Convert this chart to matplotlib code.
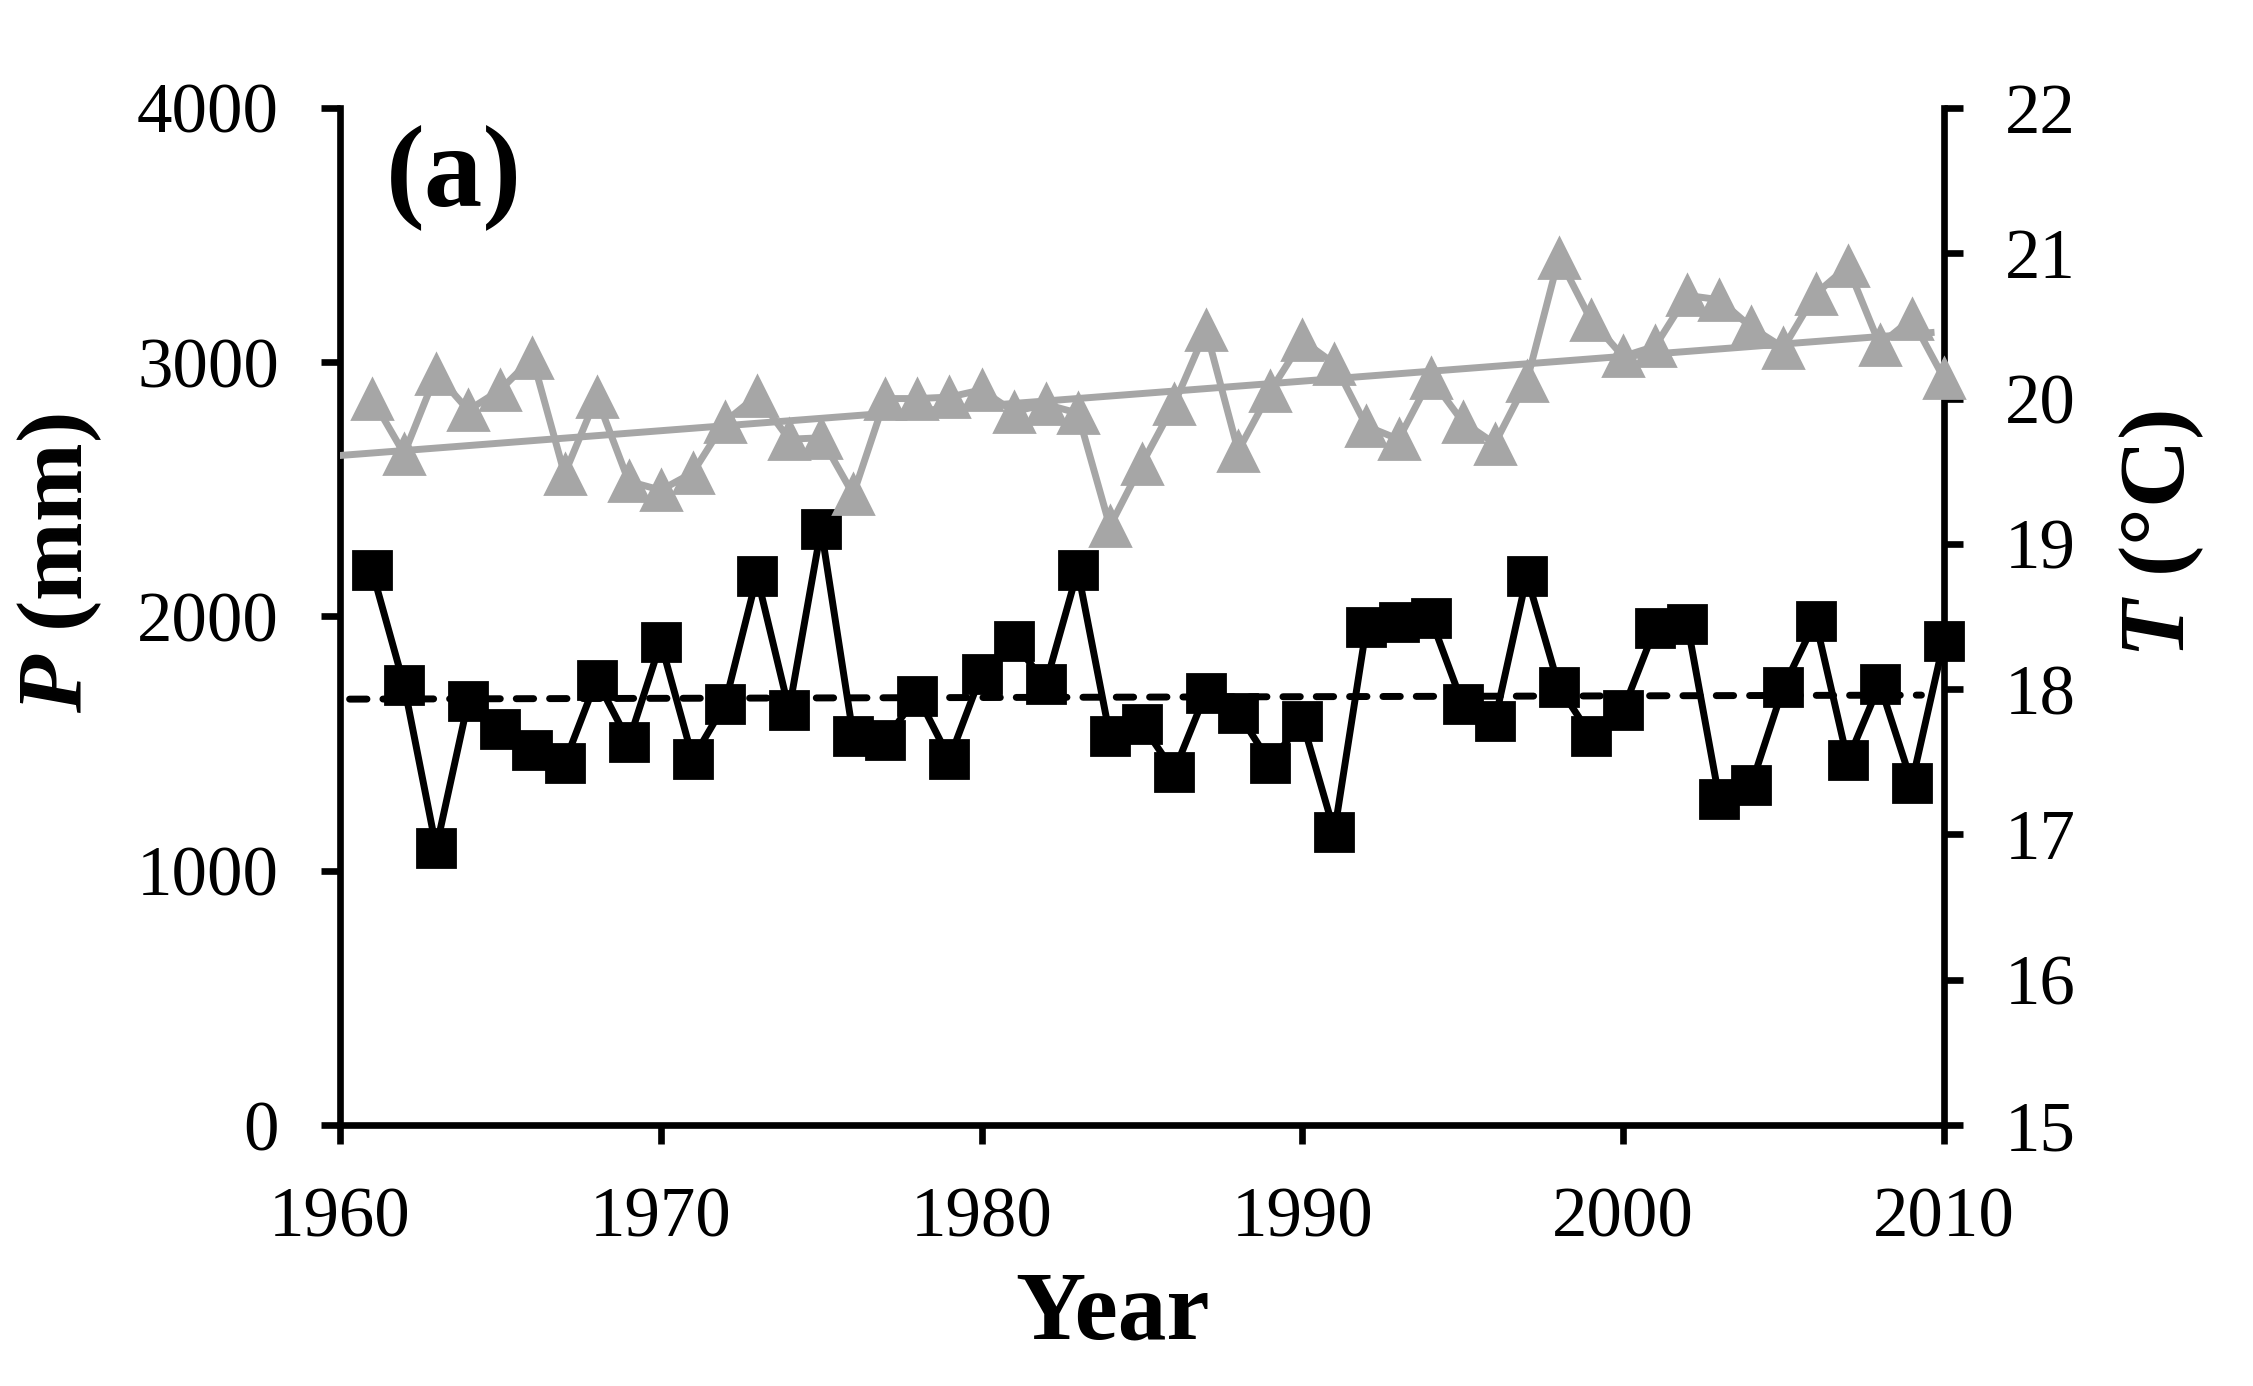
import matplotlib.pyplot as plt
import numpy as np

# annual series, 1961-2010
years = np.arange(1961, 2011)
precip = [2181, 1729, 1090, 1667, 1559, 1475, 1424, 1751, 1508, 1898,
          1441, 1655, 2158, 1633, 2345, 1531, 1514, 1689, 1441, 1774,
          1904, 1734, 2181, 1531, 1576, 1390, 1701, 1621, 1424, 1588,
          1153, 1960, 1977, 1994, 1655, 1588, 2158, 1723, 1531, 1633,
          1955, 1972, 1282, 1339, 1723, 1983, 1435, 1734, 1345, 1904]
temp = [20.00, 19.62, 20.17, 19.92, 20.06, 20.28, 19.48, 20.01, 19.43, 19.37,
        19.49, 19.84, 20.02, 19.72, 19.73, 19.34, 20.00, 20.00, 20.01, 20.06,
        19.91, 19.96, 19.90, 19.12, 19.55, 19.96, 20.47, 19.64, 20.05, 20.40,
        20.24, 19.81, 19.72, 20.14, 19.84, 19.69, 20.12, 20.97, 20.54, 20.29,
        20.36, 20.71, 20.68, 20.49, 20.35, 20.72, 20.91, 20.37, 20.55, 20.14]

p_ticks = [0, 1000, 2000, 3000, 4000]
t_ticks = [15, 16, 17, 18, 19, 20, 21, 22]
x_ticks = [1960, 1970, 1980, 1990, 2000, 2010]

gray = '#a6a6a6'

plt.rcParams['font.family'] = 'Liberation Serif'
plt.rcParams['mathtext.fontset'] = 'custom'
plt.rcParams['mathtext.it'] = 'Liberation Serif:italic:bold'
plt.rcParams['mathtext.rm'] = 'Liberation Serif:bold'

fig = plt.figure(figsize=(22.53, 13.86), dpi=100)
ax = fig.add_axes([0.1509, 0.1883, 0.7119, 0.7338])
ax2 = ax.twinx()

# precipitation, left axis
ax.plot(years, precip, '-s', color='k', lw=5, ms=28, mew=2,
        solid_joinstyle='round', zorder=3, clip_on=False)
cp = np.polyfit(years, precip, 1)
xl = np.array([1960.3, 2009.3])
ax.plot(xl, np.polyval(cp, xl), '--', color='k', lw=5, dashes=(2.5, 2.3),
        dash_capstyle='round', zorder=4)

# temperature, right axis
ax2.plot(years, temp, '-^', color=gray, lw=5, ms=29, mew=2,
         solid_joinstyle='round', zorder=3, clip_on=False)
ct = np.polyfit(years, temp, 1)
xt = np.array([1960, 2009.6])
ax2.plot(xt, np.polyval(ct, xt), '-', color=gray, lw=5, zorder=2)

ax.set_xlim(1960, 2010)
ax.set_ylim(0, 4000)
ax2.set_ylim(15, 22)
ax.set_xticks(x_ticks)
ax.set_yticks(p_ticks)
ax2.set_yticks(t_ticks)

for a in (ax, ax2):
    a.spines['top'].set_visible(False)
    for s in a.spines.values():
        s.set_linewidth(4.8)
    a.tick_params(direction='out', length=14, width=4.8, labelsize=51, pad=30)
ax2.spines['left'].set_visible(False)
ax2.spines['bottom'].set_visible(False)
ax.spines['right'].set_visible(False)

fig.text(0.494, 0.0512, 'Year', fontsize=70, fontweight='bold',
         ha='center', va='center')
fig.text(0.0266, 0.594, '$P$ (mm)', fontsize=68, fontweight='bold',
         ha='center', va='center', rotation=90)
fig.text(0.9596, 0.615, '$T$ (°C)', fontsize=68, fontweight='bold',
         ha='center', va='center', rotation=90)

ax.text(0.2015, 0.872, '(a)', transform=fig.transFigure, fontsize=84,
        fontweight='bold', ha='center', va='center')

fig.savefig('out.png', dpi=100)
